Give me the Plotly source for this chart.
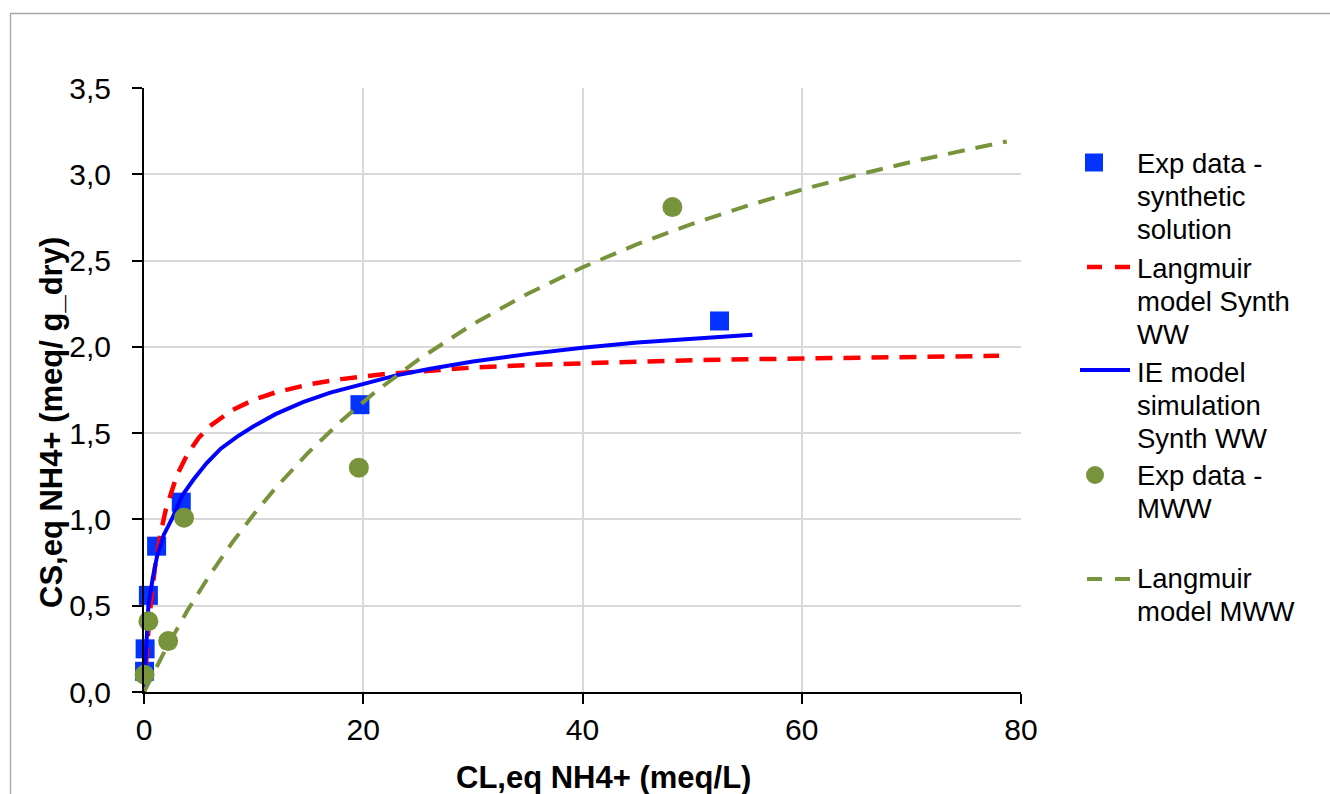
import plotly.graph_objects as go

# Experimental data - synthetic solution
synth_x = [0.05, 0.1, 0.4, 1.15, 3.4, 19.7, 52.5]
synth_y = [0.12, 0.25, 0.56, 0.845, 1.10, 1.665, 2.15]

# Langmuir model, synthetic wastewater
lang_synth_x = [0, 0.25, 0.5, 1, 1.5, 2, 3, 4, 5, 6, 8, 10, 12, 15, 18, 22, 26, 30,
                35, 40, 45, 50, 55, 60, 65, 70, 75, 78]
lang_synth_y = [0, 0.248, 0.441, 0.722, 0.917, 1.060, 1.256, 1.383, 1.473, 1.540,
                1.632, 1.693, 1.736, 1.782, 1.813, 1.843, 1.864, 1.880, 1.895, 1.906,
                1.915, 1.923, 1.928, 1.933, 1.938, 1.941, 1.944, 1.948]

# Ion-exchange model simulation, synthetic wastewater
ie_x = [0, 0.1, 0.4, 0.8, 1.2, 1.8, 2.6, 3.5, 4.5, 5.7, 7, 8.5, 10, 12, 14.5, 17,
        20, 23, 26, 30, 35, 40, 45, 50, 55.5]
ie_y = [0, 0.16, 0.50, 0.66, 0.79, 0.91, 1.01, 1.14, 1.23, 1.325, 1.41, 1.48, 1.54,
        1.61, 1.68, 1.735, 1.785, 1.835, 1.872, 1.915, 1.958, 1.995, 2.025, 2.048, 2.07]

# Experimental data - municipal wastewater
mww_x = [0.05, 0.4, 2.2, 3.65, 19.6, 48.2]
mww_y = [0.10, 0.41, 0.295, 1.01, 1.30, 2.81]

# Langmuir model, municipal wastewater
lang_mww_x = [0, 1, 2, 4, 6, 8, 10, 12, 15, 18, 21, 25, 30, 35, 40, 45, 50, 55, 60,
              65, 70, 75, 78.7]
lang_mww_y = [0, 0.129, 0.251, 0.476, 0.678, 0.862, 1.029, 1.182, 1.388, 1.571,
              1.734, 1.925, 2.132, 2.308, 2.461, 2.595, 2.713, 2.817, 2.911, 2.995,
              3.072, 3.141, 3.19]

x_ticks = [0, 20, 40, 60, 80]
y_ticks = [0, 0.5, 1.0, 1.5, 2.0, 2.5, 3.0, 3.5]

legend_lines = [
    ["Exp data -", "synthetic", "solution"],
    ["Langmuir", "model Synth", "WW"],
    ["IE model", "simulation", "Synth WW"],
    ["Exp data -", "MWW"],
    ["Langmuir", "model MWW"],
]

BLUE_SQ = "#0433FF"
BLUE_LN = "#0000FF"
RED = "#FF0000"
OLIVE = "#77933C"
FONT = "Liberation Sans, Arial, sans-serif"
DASH = "17px,11px"

W, H = 1330, 794
L, R, T, B = 144, 309, 88, 102
PW, PH = W - L - R, H - T - B


def px(xp):
    return (xp - L) / PW


def py(yp):
    return (H - B - yp) / PH


fig = go.Figure()
fig.add_trace(go.Scatter(x=synth_x, y=synth_y, mode="markers", cliponaxis=False,
                         marker=dict(symbol="square", size=19, color=BLUE_SQ)))
fig.add_trace(go.Scatter(x=lang_synth_x, y=lang_synth_y, mode="lines",
                         line=dict(color=RED, width=4.5, dash=DASH)))
fig.add_trace(go.Scatter(x=ie_x, y=ie_y, mode="lines",
                         line=dict(color=BLUE_LN, width=4)))
fig.add_trace(go.Scatter(x=mww_x, y=mww_y, mode="markers", cliponaxis=False,
                         marker=dict(symbol="circle", size=20, color=OLIVE)))
fig.add_trace(go.Scatter(x=lang_mww_x, y=lang_mww_y, mode="lines",
                         line=dict(color=OLIVE, width=4, dash=DASH)))

axis_common = dict(
    showgrid=True, gridcolor="#D9D9D9", gridwidth=2,
    showline=True, linecolor="black", linewidth=2,
    ticks="outside", ticklen=10, tickwidth=2, tickcolor="black",
    zeroline=False,
    tickfont=dict(family=FONT, size=30, color="black"),
)
fig.update_xaxes(range=[0, 80], tickvals=x_ticks, ticklabelstandoff=0, **axis_common)
fig.update_yaxes(range=[0, 3.5], tickvals=y_ticks, tickformat=".1f",
                 ticklabelstandoff=15, **axis_common)

shapes = [
    # outer chart border
    dict(type="rect", xref="paper", yref="paper", x0=px(10.5), x1=px(1345),
         y0=py(805), y1=py(13.5), line=dict(color="#A6A6A6", width=1.3), layer="below"),
    # x-axis line continues under the lowest y tick
    dict(type="line", xref="paper", yref="paper", x0=px(134), x1=px(145),
         y0=py(692), y1=py(692), line=dict(color="black", width=2)),
    # legend keys
    dict(type="rect", xref="paper", yref="paper", x0=px(1085), x1=px(1103),
         y0=py(171.5), y1=py(153.5), fillcolor=BLUE_SQ, line=dict(width=0)),
    dict(type="line", xref="paper", yref="paper", x0=px(1087), x1=px(1130),
         y0=py(267), y1=py(267), line=dict(color=RED, width=4.5, dash="15px,13px")),
    dict(type="line", xref="paper", yref="paper", x0=px(1080), x1=px(1130),
         y0=py(370), y1=py(370), line=dict(color=BLUE_LN, width=4)),
    dict(type="circle", xref="paper", yref="paper", x0=px(1086), x1=px(1104),
         y0=py(484), y1=py(466), fillcolor=OLIVE, line=dict(width=0)),
    dict(type="line", xref="paper", yref="paper", x0=px(1087), x1=px(1130),
         y0=py(579), y1=py(579), line=dict(color=OLIVE, width=4, dash="15px,13px")),
]

annotations = []
# legend text, one line each
first_line_y = [163.5, 268.5, 372.5, 475.5, 578.5]
for item, y0 in zip(legend_lines, first_line_y):
    for i, txt in enumerate(item):
        annotations.append(dict(
            xref="paper", yref="paper", x=px(1135), y=py(y0 + 33 * i),
            xanchor="left", yanchor="middle", showarrow=False, text=txt,
            font=dict(family=FONT, size=27.5, color="black")))

# axis titles
annotations.append(dict(
    xref="paper", yref="paper", x=px(603), y=py(777), xanchor="center",
    yanchor="middle", showarrow=False, text="<b>CL,eq NH4+ (meq/L)</b>",
    font=dict(family=FONT, size=31, color="black")))
annotations.append(dict(
    xref="paper", yref="paper", x=px(51), y=py(423), xanchor="center",
    yanchor="middle", showarrow=False, textangle=-90,
    text="<b>CS,eq NH4+ (meq/ g_dry)</b>",
    font=dict(family=FONT, size=31, color="black")))

fig.update_layout(
    width=W, height=H,
    margin=dict(l=L, r=R, t=T, b=B),
    paper_bgcolor="white", plot_bgcolor="white",
    showlegend=False,
    separators=",.",
    shapes=shapes,
    annotations=annotations,
)

fig.write_html("out.html")
